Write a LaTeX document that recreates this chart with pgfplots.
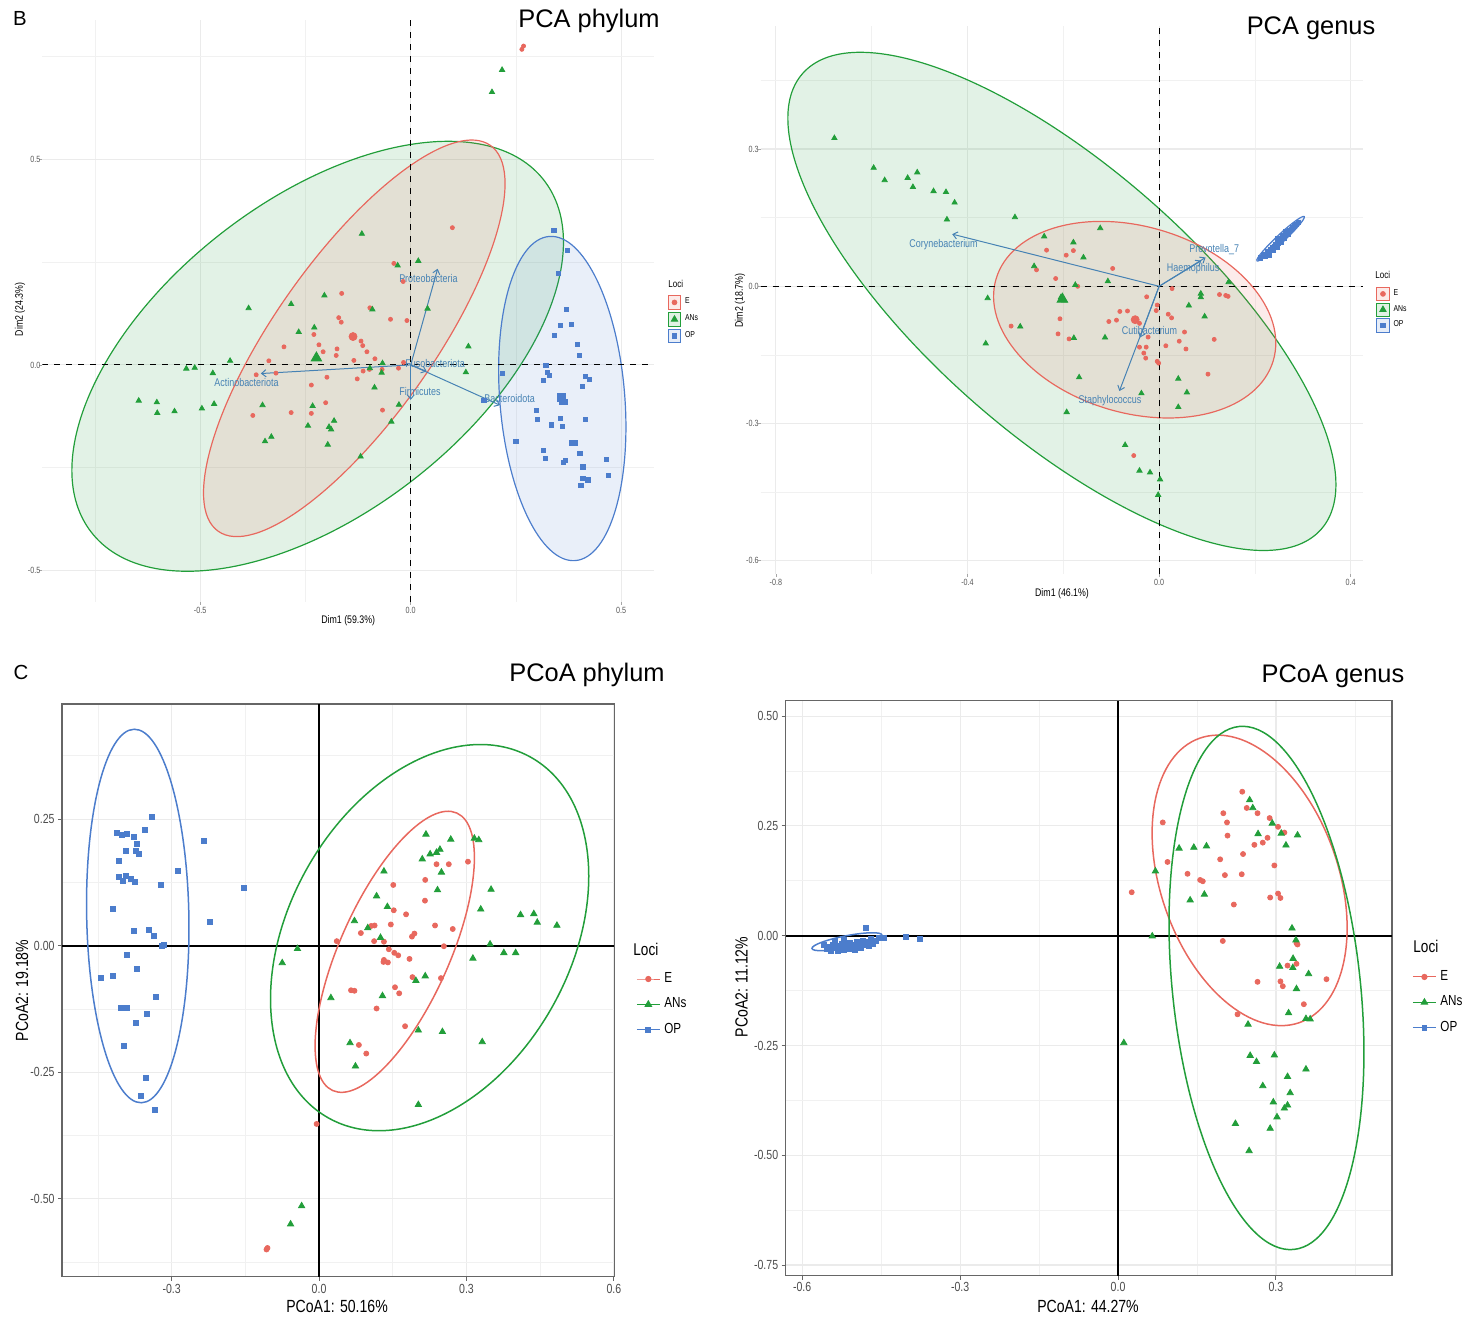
\documentclass[border=0pt]{standalone}
\usepackage{pgfplots}
\pgfplotsset{compat=1.18}
\usepackage{fontspec}
\setmainfont{Liberation Sans}
\newfontfamily\nf[FakeStretch=0.8]{Liberation Sans}
\usetikzlibrary{arrows.meta}

\definecolor{Ecol}{RGB}{232,104,94}
\definecolor{Gcol}{RGB}{34,158,58}
\definecolor{Bcol}{RGB}{76,125,204}
\definecolor{Acol}{RGB}{70,130,180}
\definecolor{gridc}{RGB}{235,235,235}

% confidence ellipse: style, centre x, centre y, angle, semi-axes (pt)
\newcommand\confell[6]{\draw[#1, rotate around={#4:(axis cs:#2,#3)}] (axis cs:#2,#3) ellipse [x radius=#5pt, y radius=#6pt];}

\tikzset{loadlab/.style={text=Acol, font=\nf\fontsize{5.6}{6}\selectfont}}

\pgfplotsset{
  panel/.style={scale only axis, anchor=north west, grid=both,
    major grid style={gridc, line width=0.55pt},
    minor grid style={gridc!70!white, line width=0.4pt},
    minor tick length=0pt, tick align=outside, xtick pos=bottom, ytick pos=left,
    legend cell align=left},
  pca/.style={panel, axis line style={draw=none}, major tick length=1.5pt,
    tick style={gray!70, line width=0.3pt},
    tick label style={font=\nf\fontsize{4.5}{5}\selectfont, text=black!65},
    yticklabel style={xshift=4pt}, xticklabel style={yshift=2.5pt},
    label style={font=\nf\fontsize{5.5}{6}\selectfont},
    legend style={draw=none, fill=none, font=\nf\fontsize{4.3}{5}\selectfont,
      row sep=0pt, inner sep=0pt}},
  pcoa/.style={panel, axis line style={draw=black!60, line width=0.6pt},
    major tick length=2pt, tick style={black!60, line width=0.5pt},
    tick label style={font=\nf\fontsize{6.6}{7}\selectfont, text=black!70},
    yticklabel style={xshift=1.8pt}, xticklabel style={yshift=2pt},
    label style={font=\nf\fontsize{8.8}{10}\selectfont},
    legend style={draw=none, fill=none, font=\nf\fontsize{7.3}{8}\selectfont,
      row sep=2.2pt, inner sep=0pt},
    legend image code/.code={\draw[mark repeat=2,mark phase=2,##1] plot coordinates {(0pt,0pt) (5.75pt,0pt) (11.5pt,0pt)};}},
  sE/.style={only marks, mark=*, color=Ecol, mark size=1pt},
  sG/.style={only marks, mark=triangle*, color=Gcol, mark size=1.5pt},
  sB/.style={only marks, mark=square*, color=Bcol, mark size=1.05pt},
  cE/.style={only marks, mark=*, color=Ecol, mark size=1.25pt},
  cG/.style={only marks, mark=triangle*, color=Gcol, mark size=1.8pt},
  cB/.style={only marks, mark=square*, color=Bcol, mark size=1.25pt},
  load/.style={color=Acol, line width=0.5pt, -{Straight Barb[length=2.2pt,width=3.6pt]}},
  keyE/.style={legend image code/.code={\draw[Ecol, fill=Ecol!14, line width=0.4pt] (0pt,-3.3pt) rectangle (6.2pt,3.3pt); \draw[Ecol, mark=*, mark size=1.2pt] plot coordinates {(3.1pt,0pt)};}},
  keyG/.style={legend image code/.code={\draw[Gcol, fill=Gcol!14, line width=0.4pt] (0pt,-3.3pt) rectangle (6.2pt,3.3pt); \draw[Gcol, mark=triangle*, mark size=1.8pt] plot coordinates {(3.1pt,0pt)};}},
  keyB/.style={legend image code/.code={\draw[Bcol, fill=Bcol!14, line width=0.4pt] (0pt,-3.3pt) rectangle (6.2pt,3.3pt); \draw[Bcol, mark=square*, mark size=1.2pt] plot coordinates {(3.1pt,0pt)};}},
}

\begin{document}
\begin{tikzpicture}
\path[use as bounding box] (0pt,0pt) rectangle (735.5pt,-659pt);

% ---------------- PCA phylum ----------------
\begin{axis}[pca, at={(21.2pt,-10pt)}, width=305.8pt, height=291pt,
  xmin=-0.8748, xmax=0.5779, ymin=-0.577, ymax=0.8394,
  xtick={-0.5,0,0.5}, xticklabels={-0.5,0.0,0.5},
  ytick={-0.5,0,0.5}, yticklabels={-0.5,0.0,0.5},
  minor xtick={-0.75,-0.25,0.25}, minor ytick={-0.25,0.25,0.75},
  xlabel={Dim1 (59.3\%)}, ylabel={Dim2 (24.3\%)},
  xlabel style={at={(axis description cs:0.5,-0.0326)}, anchor=center},
  ylabel style={at={(axis description cs:-0.0366,0.503)}, anchor=center},
  legend style={at={(1.022,0.53)}, anchor=north west}]
\confell{Gcol, line width=0.6pt, fill=Gcol, fill opacity=0.13}{-0.221}{0.021}{37.9}{143.35}{78.1}
\confell{Ecol, line width=0.6pt, fill=Ecol, fill opacity=0.13}{-0.134}{0.0647}{54.8}{118.05}{39.65}
\confell{Bcol, line width=0.6pt, fill=Bcol, fill opacity=0.12}{0.360}{-0.0818}{94.6}{81.3}{31.25}
\draw[black, dashed, line width=0.5pt] (axis cs:-0.8748,0) -- (axis cs:0.5779,0);
\draw[black, dashed, line width=0.5pt] (axis cs:0,-0.577) -- (axis cs:0,0.8394);
\addplot[sE, forget plot] coordinates {
(0.099,0.334) (-0.040,0.247) (-0.018,0.203) (-0.164,0.174) (-0.097,0.139) (-0.048,0.111)
(-0.009,0.108) (-0.171,0.115) (-0.165,0.104) (-0.230,0.074) (-0.118,0.058) (-0.114,0.047)
(-0.218,0.049) (-0.175,0.039) (-0.208,0.032) (-0.301,0.044) (-0.104,0.032) (-0.177,0.023)
(-0.085,0.015) (-0.135,0.011) (-0.337,0.010) (-0.017,0.006) (-0.029,-0.008) (-0.113,-0.015)
(-0.098,-0.011) (-0.068,-0.011) (-0.320,-0.020) (-0.367,-0.024) (-0.199,-0.030) (-0.127,-0.034)
(-0.236,-0.049) (-0.202,-0.092) (-0.284,-0.116) (-0.236,-0.118) (-0.375,-0.123) (-0.067,-0.110)
(0.264,0.768) (0.268,0.776)};
\addplot[sG, forget plot] coordinates {
(-0.116,0.319) (0.018,0.253) (-0.031,0.242) (-0.385,0.138) (-0.284,0.148) (-0.205,0.169)
(-0.091,0.135) (0.040,0.137) (-0.229,0.091) (-0.266,0.080) (-0.429,0.010) (-0.533,-0.009)
(-0.513,-0.007) (-0.470,-0.020) (-0.067,0.004) (-0.069,-0.019) (-0.097,-0.008) (0.137,0.045)
(0.131,-0.018) (-0.086,-0.055) (-0.646,-0.087) (-0.603,-0.091) (-0.602,-0.117) (-0.561,-0.113)
(-0.496,-0.106) (-0.467,-0.095) (-0.352,-0.098) (-0.233,-0.100) (-0.028,-0.097) (-0.182,-0.136)
(-0.244,-0.148) (-0.194,-0.151) (-0.189,-0.157) (-0.046,-0.138) (-0.331,-0.175) (-0.346,-0.186)
(-0.197,-0.194) (-0.119,-0.223) (0.217,0.718) (0.193,0.664)};
\addplot[sB, forget plot] coordinates {
(0.340,0.327) (0.372,0.278) (0.351,0.222) (0.369,0.135) (0.355,0.097) (0.382,0.098)
(0.342,0.072) (0.396,0.049) (0.401,0.024) (0.321,-0.002) (0.325,-0.018) (0.329,-0.025)
(0.218,-0.021) (0.316,-0.038) (0.415,-0.027) (0.424,-0.035) (0.407,-0.052) (0.359,-0.090)
(0.368,-0.090) (0.174,-0.087) (0.298,-0.111) (0.300,-0.132) (0.356,-0.131) (0.415,-0.132)
(0.334,-0.146) (0.360,-0.150) (0.250,-0.187) (0.382,-0.190) (0.392,-0.190) (0.315,-0.209)
(0.319,-0.228) (0.402,-0.215) (0.362,-0.238) (0.367,-0.232) (0.409,-0.248) (0.464,-0.229)
(0.469,-0.268) (0.409,-0.277) (0.421,-0.280) (0.404,-0.294)};
% group centres
\addplot[sE, mark size=2pt, forget plot] coordinates {(-0.137,0.069)};
\addplot[sG, mark size=3pt, forget plot] coordinates {(-0.224,0.017)};
\addplot[sB, mark size=2pt, forget plot] coordinates {(0.359,-0.080)};
% variable loadings
\addplot[load, forget plot] coordinates {(0,0) (0.064,0.234)};
\addplot[load, forget plot] coordinates {(0,0) (-0.356,-0.021)};
\addplot[load, forget plot] coordinates {(0,0) (0.038,-0.016)};
\addplot[load, forget plot] coordinates {(0,0) (0,-0.085)};
\addplot[load, forget plot] coordinates {(0,0) (0.212,-0.098)};
\node[loadlab] at (axis cs:0.042,0.211) {Proteobacteria};
\node[loadlab] at (axis cs:-0.390,-0.043) {Actinobacteriota};
\node[loadlab] at (axis cs:0.058,0.004) {Fusobacteriota};
\node[loadlab] at (axis cs:0.022,-0.065) {Firmicutes};
\node[loadlab] at (axis cs:0.235,-0.082) {Bacteroidota};
\addlegendimage{keyE}\addlegendentry{E}
\addlegendimage{keyG}\addlegendentry{ANs}
\addlegendimage{keyB}\addlegendentry{OP}
\end{axis}

% ---------------- PCA genus ----------------
\begin{axis}[pca, at={(380.35pt,-12.85pt)}, width=301.3pt, height=274.15pt,
  xmin=-0.8318, xmax=0.4263, ymin=-0.6289, ymax=0.5696,
  xtick={-0.8,-0.4,0,0.4}, xticklabels={-0.8,-0.4,0.0,0.4},
  ytick={-0.6,-0.3,0,0.3}, yticklabels={-0.6,-0.3,0.0,0.3},
  minor xtick={-0.6,-0.2,0.2}, minor ytick={-0.45,-0.15,0.15,0.45},
  xlabel={Dim1 (46.1\%)}, ylabel={Dim2 (18.7\%)},
  xlabel style={at={(axis description cs:0.5,-0.0365)}, anchor=center},
  ylabel style={at={(axis description cs:-0.0344,0.4988)}, anchor=center},
  legend style={at={(1.021,0.527)}, anchor=north west, row sep=-0.6pt}]
\confell{Gcol, line width=0.6pt, fill=Gcol, fill opacity=0.13}{-0.203}{-0.033}{-41.3}{172.6}{66.95}
\confell{Ecol, line width=0.6pt, fill=Ecol, fill opacity=0.13}{-0.051}{-0.073}{-16.4}{72.25}{46.6}
\confell{Bcol, line width=0.6pt, fill=Bcol, fill opacity=0.12}{0.2535}{0.104}{43.1}{16.2}{2.0}
\draw[black, dashed, line width=0.5pt] (axis cs:-0.8318,0) -- (axis cs:0.4263,0);
\draw[black, dashed, line width=0.5pt] (axis cs:0,-0.6289) -- (axis cs:0,0.5696);
\addplot[sE, forget plot] coordinates {
(-0.235,0.079) (-0.194,0.068) (-0.179,0.078) (-0.256,0.036) (-0.097,0.039) (-0.216,0.017)
(-0.170,0.000) (0.027,-0.005) (-0.026,-0.023) (-0.004,-0.041) (-0.006,-0.053) (-0.082,-0.055)
(-0.066,-0.054) (-0.207,-0.071) (-0.105,-0.077) (-0.089,-0.074) (-0.041,-0.081) (0.019,-0.061)
(0.026,-0.069) (-0.309,-0.087) (-0.211,-0.104) (-0.188,-0.115) (0.053,-0.100) (-0.023,-0.111)
(0.042,-0.120) (0.115,-0.116) (-0.041,-0.133) (-0.027,-0.133) (0.014,-0.130) (0.056,-0.137)
(-0.032,-0.146) (-0.028,-0.157) (-0.004,-0.164) (-0.001,-0.168) (0.102,-0.192) (0.126,-0.018)
(0.139,-0.020) (0.144,-0.022) (-0.053,-0.370)};
\addplot[sG, forget plot] coordinates {
(-0.678,0.324) (-0.596,0.259) (-0.573,0.232) (-0.525,0.237) (-0.505,0.249) (-0.514,0.217)
(-0.471,0.208) (-0.445,0.206) (-0.427,0.183) (-0.443,0.146) (-0.301,0.151) (-0.358,-0.026)
(-0.362,-0.125) (-0.123,0.127) (-0.240,0.109) (-0.179,0.096) (-0.158,0.063) (-0.261,0.044)
(-0.107,0.011) (-0.175,0.003) (-0.290,-0.088) (-0.178,-0.113) (-0.113,-0.112) (-0.167,-0.199)
(-0.037,-0.234) (-0.193,-0.275) (0.145,0.009) (0.087,-0.016) (0.087,-0.024) (0.062,-0.042)
(0.095,-0.066) (0.040,-0.202) (0.058,-0.232) (0.040,-0.264) (-0.071,-0.347) (-0.041,-0.403)
(-0.019,-0.407) (0.002,-0.422) (-0.002,-0.456) (-0.205,-0.024) (-0.198,-0.031)};
\addplot[sB, forget plot] coordinates {
(0.212,0.062) (0.218,0.070) (0.222,0.066) (0.226,0.075) (0.230,0.072) (0.233,0.080)
(0.236,0.084) (0.238,0.078) (0.241,0.088) (0.244,0.092) (0.246,0.086) (0.249,0.095)
(0.251,0.099) (0.253,0.104) (0.256,0.101) (0.258,0.108) (0.260,0.112) (0.262,0.106)
(0.265,0.115) (0.268,0.118) (0.270,0.113) (0.273,0.122) (0.276,0.125) (0.279,0.128)
(0.282,0.132) (0.286,0.135) (0.290,0.140) (0.229,0.068) (0.247,0.100) (0.263,0.120)};
\addplot[sE, mark size=2pt, forget plot] coordinates {(-0.050,-0.073)};
\addplot[sG, mark size=3pt, forget plot] coordinates {(-0.202,-0.028)};
\addplot[sB, mark size=2pt, forget plot] coordinates {(0.252,0.101)};
\addplot[load, forget plot] coordinates {(0,0) (-0.432,0.114)};
\addplot[load, forget plot] coordinates {(0,0) (0.097,0.063)};
\addplot[load, forget plot] coordinates {(0,0) (0.088,0.056)};
\addplot[load, forget plot] coordinates {(0,0) (-0.040,-0.112)};
\addplot[load, forget plot] coordinates {(0,0) (-0.083,-0.229)};
\node[loadlab] at (axis cs:-0.450,0.092) {Corynebacterium};
\node[loadlab] at (axis cs:0.115,0.081) {Prevotella\_7};
\node[loadlab] at (axis cs:0.071,0.038) {Haemophilus};
\node[loadlab] at (axis cs:-0.020,-0.097) {Cutibacterium};
\node[loadlab] at (axis cs:-0.1025,-0.249) {Staphylococcus};
\addlegendimage{keyE}\addlegendentry{E}
\addlegendimage{keyG}\addlegendentry{ANs}
\addlegendimage{keyB}\addlegendentry{OP}
\end{axis}

% ---------------- PCoA phylum ----------------
\begin{axis}[pcoa, at={(31pt,-352pt)}, width=276.2pt, height=286.4pt,
  xmin=-0.5232, xmax=0.6010, ymin=-0.6540, ymax=0.4774,
  xtick={-0.3,0,0.3,0.6}, xticklabels={-0.3,0.0,0.3,0.6},
  ytick={-0.5,-0.25,0,0.25}, yticklabels={-0.50,-0.25,0.00,0.25},
  minor xtick={-0.45,-0.15,0.15,0.45}, minor ytick={-0.625,-0.375,-0.125,0.125,0.375},
  xlabel={PCoA1: 50.16\%}, ylabel={PCoA2: 19.18\%},
  xlabel style={at={(axis description cs:0.498,-0.051)}, anchor=center},
  ylabel style={at={(axis description cs:-0.0724,0.50)}, anchor=center},
  legend style={at={(1.039,0.539)}, anchor=north west}]
\draw[black, line width=0.9pt] (axis cs:-0.5232,0) -- (axis cs:0.6010,0);
\draw[black, line width=0.9pt] (axis cs:0,-0.6540) -- (axis cs:0,0.4774);
\confell{Bcol, line width=0.75pt}{-0.369}{0.0587}{91.1}{93.4}{25.55}
\confell{Gcol, line width=0.75pt}{0.225}{0.016}{60.7}{103.4}{70.4}
\confell{Ecol, line width=0.75pt}{0.154}{-0.012}{65.9}{76.0}{27.35}
\addplot[cE, forget plot] coordinates {
(0.303,0.166) (0.239,0.161) (0.264,0.161) (0.216,0.130) (0.151,0.120) (0.2155,0.089)
(0.152,0.070) (0.177,0.062) (0.146,0.042) (0.113,0.040) (0.106,0.039) (0.085,0.025)
(0.236,0.040) (0.272,0.033) (0.194,0.024) (0.189,0.018) (0.036,0.009) (0.112,0.009)
(0.132,0.008) (0.254,-0.001) (0.142,-0.007) (0.153,-0.014) (0.161,-0.019) (0.184,-0.026)
(0.132,-0.028) (0.131,-0.032) (0.140,-0.033) (0.190,-0.062) (0.248,-0.064) (0.1545,-0.082)
(0.163,-0.094) (0.065,-0.088) (0.072,-0.089) (0.117,-0.124) (0.175,-0.159) (0.081,-0.196)
(0.096,-0.213) (-0.005,-0.352) (-0.107,-0.600) (-0.105,-0.597)};
\addplot[cG, forget plot] coordinates {
(0.2175,0.220) (0.268,0.210) (0.316,0.212) (0.325,0.209) (0.246,0.190) (0.239,0.184)
(0.226,0.181) (0.210,0.171) (0.132,0.147) (0.249,0.145) (0.241,0.110) (0.350,0.111)
(0.117,0.098) (0.139,0.077) (0.329,0.072) (0.410,0.061) (0.437,0.063) (0.444,0.046)
(0.484,0.040) (0.072,0.049) (0.099,0.035) (0.125,0.016) (0.348,0.003) (-0.044,-0.006)
(-0.075,-0.034) (0.376,-0.014) (0.400,-0.014) (0.313,-0.025) (0.216,-0.060) (0.197,-0.069)
(0.024,-0.103) (0.129,-0.099) (0.202,-0.167) (0.251,-0.170) (0.332,-0.190) (0.063,-0.192)
(0.074,-0.238) (0.202,-0.314) (-0.0355,-0.514) (-0.058,-0.550)};
\addplot[cB, forget plot] coordinates {
(-0.341,0.254) (-0.354,0.229) (-0.411,0.223) (-0.402,0.219) (-0.391,0.221) (-0.377,0.215)
(-0.371,0.201) (-0.393,0.188) (-0.373,0.188) (-0.367,0.181) (-0.408,0.167) (-0.408,0.136)
(-0.393,0.138) (-0.400,0.128) (-0.383,0.131) (-0.375,0.126) (-0.322,0.120) (-0.288,0.147)
(-0.234,0.207) (-0.154,0.114) (-0.222,0.047) (-0.420,0.073) (-0.377,0.030) (-0.346,0.032)
(-0.336,0.019) (-0.319,-0.001) (-0.315,0.002) (-0.392,-0.018) (-0.371,-0.045) (-0.445,-0.064)
(-0.420,-0.060) (-0.333,-0.101) (-0.404,-0.122) (-0.391,-0.123) (-0.350,-0.134) (-0.372,-0.153)
(-0.397,-0.197) (-0.353,-0.261) (-0.363,-0.296) (-0.335,-0.324)};
\addlegendimage{Ecol, mark=*, mark size=1.3pt, line width=0.5pt}\addlegendentry{E}
\addlegendimage{Gcol, mark=triangle*, mark size=1.8pt, line width=0.5pt}\addlegendentry{ANs}
\addlegendimage{Bcol, mark=square*, mark size=1.2pt, line width=0.5pt}\addlegendentry{OP}
\end{axis}

% ---------------- PCoA genus ----------------
\begin{axis}[pcoa, at={(392.8pt,-350.35pt)}, width=303.2pt, height=287.45pt,
  xmin=-0.6315, xmax=0.5205, ymin=-0.7741, ymax=0.5352,
  xtick={-0.6,-0.3,0,0.3}, xticklabels={-0.6,-0.3,0.0,0.3},
  ytick={-0.75,-0.5,-0.25,0,0.25,0.5}, yticklabels={-0.75,-0.50,-0.25,0.00,0.25,0.50},
  minor xtick={-0.45,-0.15,0.15,0.45}, minor ytick={-0.625,-0.375,-0.125,0.125,0.375},
  xlabel={PCoA1: 44.27\%}, ylabel={PCoA2: 11.12\%},
  xlabel style={at={(axis description cs:0.4987,-0.0529)}, anchor=center},
  ylabel style={at={(axis description cs:-0.0726,0.502)}, anchor=center},
  legend style={at={(1.033,0.5385)}, anchor=north west}]
\draw[black, line width=0.9pt] (axis cs:-0.6315,0) -- (axis cs:0.5205,0);
\draw[black, line width=0.9pt] (axis cs:0,-0.7741) -- (axis cs:0,0.5352);
\confell{Bcol, line width=0.75pt}{-0.515}{-0.0137}{11}{17.8}{3.0}
\confell{Ecol, line width=0.75pt}{0.250}{0.126}{109.3}{75.35}{44.4}
\confell{Gcol, line width=0.75pt}{0.282}{-0.119}{96.0}{131.45}{47.0}
\addplot[cE, forget plot] coordinates {
(0.236,0.328) (0.2445,0.291) (0.265,0.279) (0.200,0.279) (0.207,0.258) (0.085,0.258)
(0.288,0.268) (0.304,0.248) (0.316,0.235) (0.208,0.228) (0.284,0.223) (0.275,0.212)
(0.259,0.207) (0.2375,0.186) (0.194,0.174) (0.094,0.168) (0.297,0.160) (0.132,0.141)
(0.203,0.138) (0.235,0.140) (0.156,0.127) (0.161,0.124) (0.304,0.096) (0.3085,0.086)
(0.289,0.087) (0.220,0.071) (0.026,0.099) (0.199,-0.012) (0.339,-0.017) (0.341,-0.020)
(0.339,-0.064) (0.322,-0.068) (0.265,-0.105) (0.3085,-0.104) (0.313,-0.115) (0.396,-0.099)
(0.353,-0.156) (0.227,-0.179)};
\addplot[cG, forget plot] coordinates {
(0.250,0.309) (0.256,0.291) (0.293,0.256) (0.310,0.233) (0.266,0.232) (0.341,0.229)
(0.319,0.206) (0.116,0.199) (0.144,0.201) (0.168,0.204) (0.071,0.147) (0.137,0.081)
(0.164,0.094) (0.3305,0.017) (0.065,-0.001) (0.338,-0.010) (0.307,-0.070) (0.3325,-0.052)
(0.332,-0.073) (0.362,-0.087) (0.339,-0.121) (0.324,-0.176) (0.357,-0.189) (0.365,-0.190)
(0.247,-0.202) (0.251,-0.273) (0.297,-0.272) (0.263,-0.287) (0.357,-0.304) (0.322,-0.321)
(0.275,-0.342) (0.327,-0.358) (0.295,-0.379) (0.322,-0.386) (0.316,-0.393) (0.302,-0.413)
(0.223,-0.428) (0.289,-0.439) (0.249,-0.490) (0.011,-0.244)};
\addplot[cB, forget plot] coordinates {
(-0.558,-0.022) (-0.553,-0.030) (-0.548,-0.026) (-0.545,-0.034) (-0.541,-0.020) (-0.537,-0.028)
(-0.533,-0.035) (-0.530,-0.024) (-0.527,-0.030) (-0.524,-0.018) (-0.521,-0.033) (-0.518,-0.026)
(-0.515,-0.021) (-0.512,-0.031) (-0.509,-0.016) (-0.506,-0.027) (-0.503,-0.022) (-0.500,-0.032)
(-0.497,-0.013) (-0.494,-0.024) (-0.491,-0.019) (-0.488,-0.028) (-0.485,-0.011) (-0.482,-0.020)
(-0.479,0.017) (-0.477,-0.015) (-0.474,-0.024) (-0.470,-0.008) (-0.466,-0.018) (-0.460,-0.012)
(-0.455,-0.006) (-0.445,-0.005) (-0.403,-0.002) (-0.376,-0.008) (-0.538,-0.012) (-0.520,-0.010)};
\addlegendimage{Ecol, mark=*, mark size=1.3pt, line width=0.5pt}\addlegendentry{E}
\addlegendimage{Gcol, mark=triangle*, mark size=1.8pt, line width=0.5pt}\addlegendentry{ANs}
\addlegendimage{Bcol, mark=square*, mark size=1.2pt, line width=0.5pt}\addlegendentry{OP}
\end{axis}

% panel letters, titles and legend headings
\node[font=\fontsize{10.2}{12}\selectfont] at (10pt,-9pt) {B};
\node[font=\fontsize{10.2}{12}\selectfont] at (10.5pt,-336pt) {C};
\node[font=\fontsize{12.7}{14}\selectfont] at (294.5pt,-10.5pt) {PCA phylum};
\node[font=\fontsize{12.7}{14}\selectfont] at (655.5pt,-14pt) {PCA genus};
\node[font=\fontsize{12.7}{14}\selectfont] at (293.5pt,-337.5pt) {PCoA phylum};
\node[font=\fontsize{12.7}{14}\selectfont] at (666.5pt,-338pt) {PCoA genus};
\node[anchor=west, inner sep=0pt, font=\nf\fontsize{5}{6}\selectfont] at (334pt,-142pt) {Loci};
\node[anchor=west, inner sep=0pt, font=\nf\fontsize{5}{6}\selectfont] at (687.5pt,-137.5pt) {Loci};
\node[anchor=west, inner sep=0pt, font=\nf\fontsize{8.5}{10}\selectfont] at (316.5pt,-474.5pt) {Loci};
\node[anchor=west, inner sep=0pt, font=\nf\fontsize{8.5}{10}\selectfont] at (706.5pt,-473pt) {Loci};
\end{tikzpicture}
\end{document}
